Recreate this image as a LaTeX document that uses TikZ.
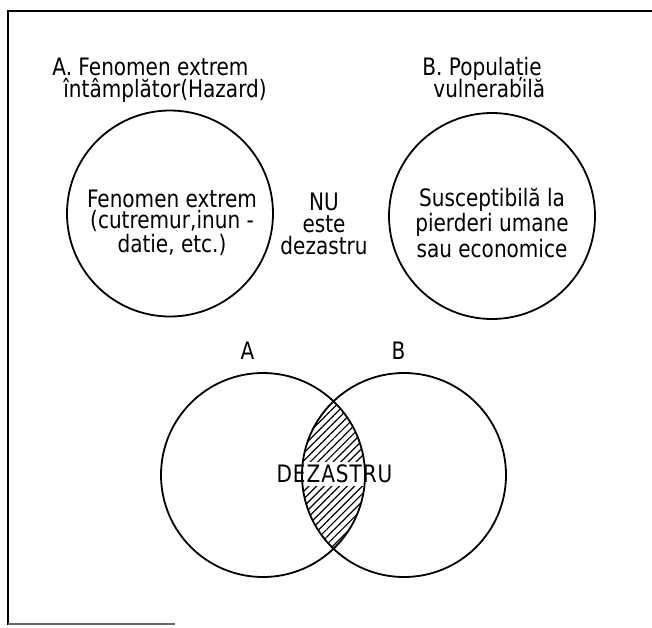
\documentclass[tikz,border=0pt]{standalone}
\usepackage{fontspec}
\setmainfont{DejaVu Sans}[FakeStretch=0.835]
\usetikzlibrary{patterns.meta}
\begin{document}
\begin{tikzpicture}[x=0.5pt,y=-0.5pt,
  circ/.style={draw,circle,minimum size=103pt,inner sep=0pt,line width=0.9pt},
  lbl/.style={inner sep=0pt,font=\fontsize{12pt}{11pt}\selectfont},
  blk/.style={inner sep=0pt,align=center,anchor=north},
  hatch/.style={pattern={Lines[angle=45,distance=2.7pt,line width=0.6pt]}}]
\useasboundingbox (0,0) rectangle (652,627);
% frame
\draw[line width=1pt] (652,11) -- (8,11) -- (8,625);
\draw[line width=0.6pt,black!60] (8,624) -- (175,624);
% titles
\node[lbl,anchor=base west] (tA1) at (52,75) {A. Fenomen extrem};
\node[lbl,anchor=base west] (tA2) at (63,97) {întâmplător(Hazard)};
\node[lbl,anchor=base west] (tB1) at (422,75) {B. Populație};
\node[lbl,anchor=base west] (tB2) at (433,97) {vulnerabilă};
% top circles
\node[circ] (cA) at (170,213.5) {};
\node[circ] (cB) at (492,216) {};
\node[lbl,blk,font=\fontsize{12pt}{10.5pt}\selectfont] (txA) at (172,190)
  {Fenomen extrem\\(cutremur,inun -\\datie, etc.)};
\node[lbl,blk,font=\fontsize{12pt}{10.5pt}\selectfont] (txB) at (492,188)
  {Susceptibilă la\\pierderi umane\\sau economice};
\node[lbl,blk,font=\fontsize{12pt}{11pt}\selectfont] (nu) at (324,193)
  {NU\\este\\dezastru};
% Venn
\coordinate (vAc) at (263,475);
\coordinate (vBc) at (404,475);
\begin{scope}
  \clip (vAc) circle[radius=51pt];
  \fill[hatch] (vBc) circle[radius=51pt];
\end{scope}
\node[lbl,fill=white,inner sep=1.5pt,font=\fontsize{12pt}{11pt}\addfontfeature{LetterSpace=4}\selectfont] (dz) at (334.5,474) {DEZASTRU};
\node[circ,minimum size=102pt] (vA) at (vAc) {};
\node[circ,minimum size=102pt] (vB) at (vBc) {};
\node[lbl,anchor=base] (la) at (247.5,359) {A};
\node[lbl,anchor=base] (lb) at (398.5,359) {B};
\end{tikzpicture}
\end{document}
